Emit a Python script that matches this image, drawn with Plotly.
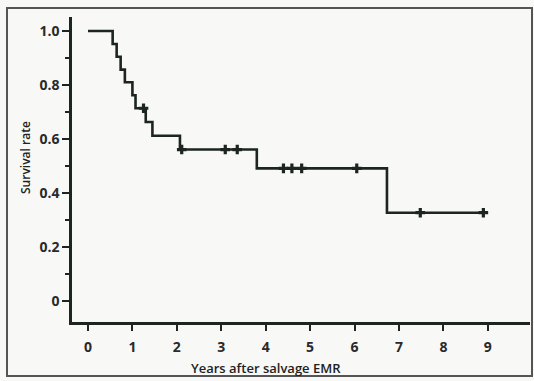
import plotly.graph_objects as go

# Kaplan-Meier step data
death_times = [0.0, 0.555, 0.645, 0.735, 0.83, 1.0, 1.07, 1.3, 1.45, 2.07, 3.8, 6.73]
survival = [1.0, 0.952, 0.905, 0.857, 0.810, 0.762, 0.714, 0.663, 0.612, 0.561, 0.491, 0.327]
end_time = 8.9

censor_times = [1.25, 2.11, 3.09, 3.36, 4.4, 4.59, 4.81, 6.05, 7.48, 8.9]
censor_surv = [0.714, 0.561, 0.561, 0.561, 0.491, 0.491, 0.491, 0.491, 0.327, 0.327]

x_ticks = [0, 1, 2, 3, 4, 5, 6, 7, 8, 9]
y_ticks = [0, 0.2, 0.4, 0.6, 0.8, 1.0]
y_tick_labels = ["0", "0.2", "0.4", "0.6", "0.8", "1.0"]

INK = "#1c2520"
FONT = "Open Sans"

# plot area in pixels
W, H = 534, 381
L, R, T, B = 72, 4, 17, 59
pw, ph = W - L - R, H - T - B

def px(p):
    return (p - L) / pw

def py(p):
    return (H - B - p) / ph

fig = go.Figure()
fig.add_trace(go.Scatter(
    x=death_times + [end_time], y=survival + [survival[-1]],
    mode="lines", line=dict(color=INK, width=2.6, shape="hv"),
    hoverinfo="skip", showlegend=False))
fig.add_trace(go.Scatter(
    x=censor_times, y=censor_surv, mode="markers",
    marker=dict(symbol="cross", size=8, color=INK, line=dict(width=0)),
    showlegend=False))

fig.update_layout(
    width=W, height=H,
    margin=dict(l=L, r=R, t=T, b=B),
    paper_bgcolor="#f8f8f6", plot_bgcolor="#f8f8f6",
    font=dict(family=FONT, color="#2a2a2a", size=13),
    xaxis=dict(range=[-0.36, 9.95], tickvals=x_ticks, ticks="outside", ticklen=6,
               tickwidth=2, tickcolor=INK, showline=True, linecolor=INK, linewidth=2.5,
               showgrid=False, zeroline=False, tickfont=dict(size=14, weight="bold"),
               ticklabelstandoff=4),
    yaxis=dict(range=[-0.078, 1.052], tickvals=y_ticks, ticktext=y_tick_labels,
               ticks="outside", ticklen=7, tickwidth=2, tickcolor=INK,
               showline=True, linecolor=INK, linewidth=2.5, showgrid=False,
               zeroline=False, tickfont=dict(size=14, weight="bold"),
               minor=dict(tickvals=[0.1, 0.3, 0.5, 0.7, 0.9], ticks="outside",
                          ticklen=4, tickwidth=2, tickcolor=INK)),
    annotations=[
        dict(text="Years after salvage EMR", x=px(266), y=py(368), xref="paper", yref="paper",
             showarrow=False, font=dict(size=13, family=FONT, color="#222", weight=600),
             xanchor="center", yanchor="middle"),
        dict(text="Survival rate", x=px(25), y=py(158), xref="paper", yref="paper",
             showarrow=False, textangle=-90,
             font=dict(size=12, family=FONT, color="#222", weight=600),
             xanchor="center", yanchor="middle"),
    ],
    shapes=[dict(type="rect", xref="paper", yref="paper",
                 x0=px(7), x1=px(532), y0=py(376), y1=py(8),
                 line=dict(color="#555", width=2), layer="below")],
)

fig.write_html("out.html", config={"displayModeBar": False},
               post_script="document.body.style.margin='0px';document.body.style.padding='0px';")
